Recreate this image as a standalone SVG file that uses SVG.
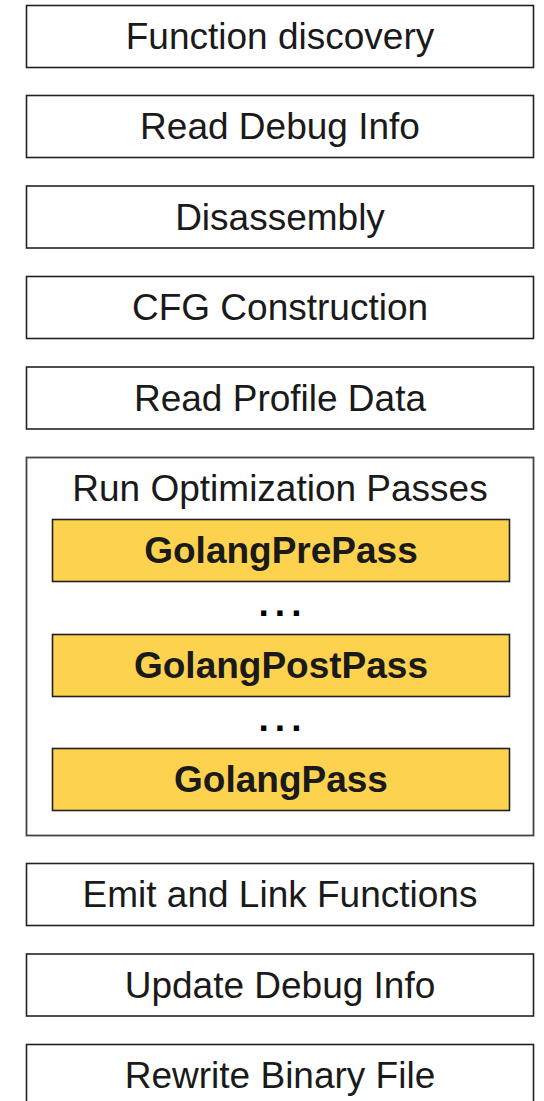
<svg xmlns="http://www.w3.org/2000/svg" width="544" height="1101" viewBox="0 0 544 1101">
<style>
.box{fill:#fff;stroke:#222;stroke-width:1.6}
.outer{fill:#fff;stroke:#444;stroke-width:1.8}
.pass{fill:#FDD24E;stroke:#222;stroke-width:1.6}
.t{font-family:"Liberation Sans",Arial,sans-serif;font-size:37px;fill:#1a1a1a;text-anchor:middle}
.b{font-weight:bold}
.dots{letter-spacing:6px;fill:#000}
</style>
<rect width="544" height="1101" fill="#fff"/>
<g id="n1"><rect class="box" x="26.5" y="5.5" width="507" height="62"/><text class="t" x="280" y="49">Function discovery</text></g>
<g id="n2"><rect class="box" x="26.5" y="95.5" width="507" height="62"/><text class="t" x="280" y="139">Read Debug Info</text></g>
<g id="n3"><rect class="box" x="26.5" y="186" width="507" height="62"/><text class="t" x="280" y="229.5">Disassembly</text></g>
<g id="n4"><rect class="box" x="26.5" y="276.5" width="507" height="62"/><text class="t" x="280" y="320">CFG Construction</text></g>
<g id="n5"><rect class="box" x="26.5" y="367" width="507" height="62"/><text class="t" x="280" y="410.5">Read Profile Data</text></g>
<g id="n6"><rect class="outer" x="26.5" y="457.5" width="507" height="378"/><text class="t" x="280" y="501">Run Optimization Passes</text>
<text class="t b dots" x="283" y="616">...</text>
<text class="t b dots" x="283" y="731">...</text></g>
<g id="p1"><rect class="pass" x="52.5" y="519.5" width="457" height="62"/><text class="t b" x="281" y="563">GolangPrePass</text></g>
<g id="p2"><rect class="pass" x="52.5" y="634.5" width="457" height="62"/><text class="t b" x="281" y="678">GolangPostPass</text></g>
<g id="p3"><rect class="pass" x="52.5" y="748.5" width="457" height="62"/><text class="t b" x="281" y="792">GolangPass</text></g>
<g id="n7"><rect class="box" x="26.5" y="863.5" width="507" height="62"/><text class="t" x="280" y="907">Emit and Link Functions</text></g>
<g id="n8"><rect class="box" x="26.5" y="954" width="507" height="62"/><text class="t" x="280" y="997.5">Update Debug Info</text></g>
<g id="n9"><rect class="box" x="26.5" y="1044.5" width="507" height="62"/><text class="t" x="280" y="1088">Rewrite Binary File</text></g>
<g id="connectors"></g>
</svg>
